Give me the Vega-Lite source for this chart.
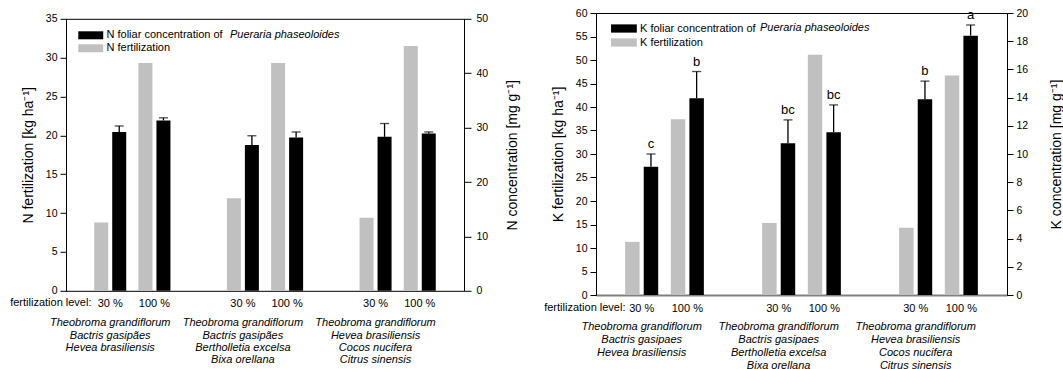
{
 "$schema": "https://vega.github.io/schema/vega-lite/v6.json",
 "padding": {"left": 9, "top": 7, "right": 0, "bottom": 0},
 "spacing": 22,
 "center": true,
 "config": {
  "font": "Liberation Sans",
  "view": {"stroke": "black", "strokeWidth": 1},
  "axis": {"labelFont": "Liberation Sans", "titleFont": "Liberation Sans", "labelColor": "black", "titleColor": "black", "tickColor": "black", "domainColor": "black", "titleFontWeight": "normal", "labelFontSize": 10.5, "titleFontSize": 14, "grid": false},
  "legend": {"labelFont": "Liberation Sans", "labelColor": "black", "labelFontSize": 11, "labelLimit": 500, "padding": 0},
  "text": {"font": "Liberation Sans"}
 },
 "datasets": {
  "N": [
   {"slot": "1|30 %", "s": "fert", "v": 8.8},
   {"slot": "1|30 %", "s": "conc", "v": 29.2, "hi": 30.3},
   {"slot": "1|100 %", "s": "fert", "v": 29.3},
   {"slot": "1|100 %", "s": "conc", "v": 31.3, "hi": 31.8},
   {"slot": "2|30 %", "s": "fert", "v": 11.9},
   {"slot": "2|30 %", "s": "conc", "v": 26.8, "hi": 28.5},
   {"slot": "2|100 %", "s": "fert", "v": 29.3},
   {"slot": "2|100 %", "s": "conc", "v": 28.2, "hi": 29.2},
   {"slot": "3|30 %", "s": "fert", "v": 9.4},
   {"slot": "3|30 %", "s": "conc", "v": 28.3, "hi": 30.75},
   {"slot": "3|100 %", "s": "fert", "v": 31.5},
   {"slot": "3|100 %", "s": "conc", "v": 28.9, "hi": 29.2}
  ],
  "K": [
   {"slot": "1|30 %", "s": "fert", "v": 11.3},
   {"slot": "1|30 %", "s": "conc", "v": 9.1, "hi": 10.0, "letter": "c"},
   {"slot": "1|100 %", "s": "fert", "v": 37.4},
   {"slot": "1|100 %", "s": "conc", "v": 13.96, "hi": 15.85, "letter": "b"},
   {"slot": "2|30 %", "s": "fert", "v": 15.3},
   {"slot": "2|30 %", "s": "conc", "v": 10.76, "hi": 12.42, "letter": "bc"},
   {"slot": "2|100 %", "s": "fert", "v": 51.1},
   {"slot": "2|100 %", "s": "conc", "v": 11.54, "hi": 13.48, "letter": "bc"},
   {"slot": "3|30 %", "s": "fert", "v": 14.3},
   {"slot": "3|30 %", "s": "conc", "v": 13.89, "hi": 15.17, "letter": "b"},
   {"slot": "3|100 %", "s": "fert", "v": 46.7},
   {"slot": "3|100 %", "s": "conc", "v": 18.39, "hi": 19.15, "letter": "a"}
  ]
 },
 "hconcat": [
  {
   "width": 398,
   "height": 272,
   "data": {"name": "N"},
   "resolve": {"scale": {"y": "independent"}, "axis": {"x": "independent"}},
   "layer": [
    {
     "transform": [{"filter": "datum.s == 'fert'"}],
     "mark": {"type": "bar"},
     "encoding": {
      "x": {"field": "slot", "type": "nominal", "sort": null,
       "scale": {"domain": ["1|30 %", "1|100 %", "gap1", "2|30 %", "2|100 %", "gap2", "3|30 %", "3|100 %"], "paddingInner": 0, "paddingOuter": 0.5},
       "axis": {"title": "fertilization level:", "titleX": 25, "titleY": 12, "titleAlign": "right", "titleBaseline": "middle", "titleFontSize": 11, "titleFontWeight": "normal", "labelExpr": "(datum.value == 'gap1' || datum.value == 'gap2') ? '' : split(datum.value, '|')[1]", "labelAngle": 0, "labelFontSize": 11, "labelPadding": 7, "ticks": false, "tickSize": 0, "domain": false, "labelOverlap": false}},
      "xOffset": {"field": "s", "type": "nominal", "scale": {"domain": ["fert", "conc"], "paddingInner": 0.222, "paddingOuter": 0.339}},
      "y": {"field": "v", "type": "quantitative", "scale": {"domain": [0, 35], "nice": false},
       "axis": {"title": "N fertilization [kg ha⁻¹]", "values": [0, 5, 10, 15, 20, 25, 30, 35], "tickSize": 6, "labelPadding": 3, "titlePadding": 10}},
      "color": {"field": "s", "type": "nominal", "scale": {"domain": ["conc", "fert"], "range": ["#000000", "#c0c0c0"]},
       "legend": {"orient": "none", "legendX": 12, "legendY": 10, "title": null, "direction": "vertical", "labelExpr": "datum.value == 'conc' ? 'N foliar concentration of' : 'N fertilization'", "symbolType": "M-1,-0.64H3V0.64H-1Z", "symbolSize": 156, "symbolStrokeWidth": 0, "labelOffset": 15.5, "rowPadding": 1}}
     }
    },
    {
     "transform": [{"filter": "datum.s == 'conc'"}],
     "mark": {"type": "bar"},
     "encoding": {
      "x": {"field": "slot", "type": "nominal", "sort": null,
       "scale": {"domain": ["1|30 %", "1|100 %", "gap1", "2|30 %", "2|100 %", "gap2", "3|30 %", "3|100 %"], "paddingInner": 0, "paddingOuter": 0.5},
       "axis": {"orient": "bottom", "values": ["1|30 %", "2|30 %", "3|30 %"], "bandPosition": 1, "title": null, "labelExpr": "datum.value == '1|30 %' ? ['Theobroma grandiflorum', 'Bactris gasipães', 'Hevea brasiliensis'] : datum.value == '2|30 %' ? ['Theobroma grandiflorum', 'Bactris gasipães', 'Bertholletia excelsa', 'Bixa orellana'] : ['Theobroma grandiflorum', 'Hevea brasiliensis', 'Cocos nucifera', 'Citrus sinensis']", "labelFontStyle": "italic", "labelFontSize": 11, "labelLineHeight": 12.3, "labelPadding": 26, "labelAngle": 0, "ticks": false, "tickSize": 0, "domain": false, "labelOverlap": false, "labelFlush": false}},
      "xOffset": {"field": "s", "type": "nominal", "scale": {"domain": ["fert", "conc"], "paddingInner": 0.222, "paddingOuter": 0.339}},
      "y": {"field": "v", "type": "quantitative", "scale": {"domain": [0, 50], "nice": false},
       "axis": {"orient": "right", "title": "N concentration [mg g⁻¹]", "titleAngle": 270, "titleBaseline": "top", "values": [0, 10, 20, 30, 40, 50], "tickSize": 7, "labelPadding": 5, "titlePadding": 18}},
      "color": {"field": "s", "type": "nominal", "scale": {"domain": ["conc", "fert"], "range": ["#000000", "#c0c0c0"]}},
      "opacity": {"datum": "Pueraria phaseoloides", "type": "nominal", "scale": {"range": [1]},
       "legend": {"orient": "none", "legendX": 149, "legendY": 10.5, "title": null, "symbolOpacity": 0, "symbolSize": 0, "labelOffset": 4, "labelFontStyle": "italic"}}
     }
    },
    {
     "transform": [{"filter": "datum.s == 'conc'"}],
     "mark": {"type": "rule", "color": "black", "strokeWidth": 1.3},
     "encoding": {
      "x": {"field": "slot", "type": "nominal", "sort": null, "axis": null,
       "scale": {"domain": ["1|30 %", "1|100 %", "gap1", "2|30 %", "2|100 %", "gap2", "3|30 %", "3|100 %"], "paddingInner": 0, "paddingOuter": 0.5}},
      "xOffset": {"field": "s", "type": "nominal", "scale": {"domain": ["fert", "conc"], "paddingInner": 0.222, "paddingOuter": 0.339}},
      "y": {"field": "v", "type": "quantitative", "scale": {"domain": [0, 50], "nice": false}, "axis": null},
      "y2": {"field": "hi"}
     }
    },
    {
     "transform": [{"filter": "datum.s == 'conc'"}],
     "mark": {"type": "tick", "color": "black", "size": 9, "thickness": 1.3},
     "encoding": {
      "x": {"field": "slot", "type": "nominal", "sort": null, "axis": null,
       "scale": {"domain": ["1|30 %", "1|100 %", "gap1", "2|30 %", "2|100 %", "gap2", "3|30 %", "3|100 %"], "paddingInner": 0, "paddingOuter": 0.5}},
      "xOffset": {"field": "s", "type": "nominal", "scale": {"domain": ["fert", "conc"], "paddingInner": 0.222, "paddingOuter": 0.339}},
      "y": {"field": "hi", "type": "quantitative", "scale": {"domain": [0, 50], "nice": false}, "axis": null}
     }
    }
   ]
  },
  {
   "width": 411,
   "height": 282,
   "data": {"name": "K"},
   "resolve": {"scale": {"y": "independent"}, "axis": {"x": "independent"}},
   "layer": [
    {
     "transform": [{"filter": "datum.s == 'fert'"}],
     "mark": {"type": "bar"},
     "encoding": {
      "x": {"field": "slot", "type": "nominal", "sort": null,
       "scale": {"domain": ["1|30 %", "1|100 %", "gap1", "2|30 %", "2|100 %", "gap2", "3|30 %", "3|100 %"], "paddingInner": 0, "paddingOuter": 0.5},
       "axis": {"title": "fertilization level:", "titleX": 29, "titleY": 12.7, "titleAlign": "right", "titleBaseline": "middle", "titleFontSize": 11, "titleFontWeight": "normal", "labelExpr": "(datum.value == 'gap1' || datum.value == 'gap2') ? '' : split(datum.value, '|')[1]", "labelAngle": 0, "labelFontSize": 11, "labelPadding": 7.5, "ticks": false, "tickSize": 0, "domain": true, "domainColor": "#808080", "domainWidth": 2, "labelOverlap": false}},
      "xOffset": {"field": "s", "type": "nominal", "scale": {"domain": ["fert", "conc"], "paddingInner": 0.222, "paddingOuter": 0.339}},
      "y": {"field": "v", "type": "quantitative", "scale": {"domain": [0, 60], "nice": false},
       "axis": {"title": "K fertilization [kg ha⁻¹]", "values": [0, 5, 10, 15, 20, 25, 30, 35, 40, 45, 50, 55, 60], "tickSize": 6, "labelPadding": 3, "titlePadding": 10}},
      "color": {"field": "s", "type": "nominal", "scale": {"domain": ["conc", "fert"], "range": ["#000000", "#c0c0c0"]},
       "legend": {"orient": "none", "legendX": 15, "legendY": 9, "title": null, "direction": "vertical", "labelExpr": "datum.value == 'conc' ? 'K foliar concentration of' : 'K fertilization'", "symbolType": "M-1,-0.64H3V0.64H-1Z", "symbolSize": 166, "symbolStrokeWidth": 0, "labelOffset": 16, "rowPadding": 2}}
     }
    },
    {
     "transform": [{"filter": "datum.s == 'conc'"}],
     "mark": {"type": "bar"},
     "encoding": {
      "x": {"field": "slot", "type": "nominal", "sort": null,
       "scale": {"domain": ["1|30 %", "1|100 %", "gap1", "2|30 %", "2|100 %", "gap2", "3|30 %", "3|100 %"], "paddingInner": 0, "paddingOuter": 0.5},
       "axis": {"orient": "bottom", "values": ["1|30 %", "2|30 %", "3|30 %"], "bandPosition": 1, "title": null, "labelExpr": "datum.value == '1|30 %' ? ['Theobroma grandiflorum', 'Bactris gasipaes', 'Hevea brasiliensis'] : datum.value == '2|30 %' ? ['Theobroma grandiflorum', 'Bactris gasipaes', 'Bertholletia excelsa', 'Bixa orellana'] : ['Theobroma grandiflorum', 'Hevea brasiliensis', 'Cocos nucifera', 'Citrus sinensis']", "labelFontStyle": "italic", "labelFontSize": 11, "labelLineHeight": 13, "labelPadding": 25.5, "labelAngle": 0, "ticks": false, "tickSize": 0, "domain": false, "labelOverlap": false, "labelFlush": false}},
      "xOffset": {"field": "s", "type": "nominal", "scale": {"domain": ["fert", "conc"], "paddingInner": 0.222, "paddingOuter": 0.339}},
      "y": {"field": "v", "type": "quantitative", "scale": {"domain": [0, 20], "nice": false},
       "axis": {"orient": "right", "title": "K concentration [mg g⁻¹]", "titleAngle": 270, "titleBaseline": "top", "values": [0, 2, 4, 6, 8, 10, 12, 14, 16, 18, 20], "tickSize": 6, "labelPadding": 3, "titlePadding": 22}},
      "color": {"field": "s", "type": "nominal", "scale": {"domain": ["conc", "fert"], "range": ["#000000", "#c0c0c0"]}},
      "opacity": {"datum": "Pueraria phaseoloides", "type": "nominal", "scale": {"range": [1]},
       "legend": {"orient": "none", "legendX": 149, "legendY": 9.5, "title": null, "symbolOpacity": 0, "symbolSize": 0, "labelOffset": 4, "labelFontStyle": "italic"}}
     }
    },
    {
     "transform": [{"filter": "datum.s == 'conc'"}],
     "mark": {"type": "rule", "color": "black", "strokeWidth": 1.3},
     "encoding": {
      "x": {"field": "slot", "type": "nominal", "sort": null, "axis": null,
       "scale": {"domain": ["1|30 %", "1|100 %", "gap1", "2|30 %", "2|100 %", "gap2", "3|30 %", "3|100 %"], "paddingInner": 0, "paddingOuter": 0.5}},
      "xOffset": {"field": "s", "type": "nominal", "scale": {"domain": ["fert", "conc"], "paddingInner": 0.222, "paddingOuter": 0.339}},
      "y": {"field": "v", "type": "quantitative", "scale": {"domain": [0, 20], "nice": false}, "axis": null},
      "y2": {"field": "hi"}
     }
    },
    {
     "transform": [{"filter": "datum.s == 'conc'"}],
     "mark": {"type": "tick", "color": "black", "size": 9, "thickness": 1.3},
     "encoding": {
      "x": {"field": "slot", "type": "nominal", "sort": null, "axis": null,
       "scale": {"domain": ["1|30 %", "1|100 %", "gap1", "2|30 %", "2|100 %", "gap2", "3|30 %", "3|100 %"], "paddingInner": 0, "paddingOuter": 0.5}},
      "xOffset": {"field": "s", "type": "nominal", "scale": {"domain": ["fert", "conc"], "paddingInner": 0.222, "paddingOuter": 0.339}},
      "y": {"field": "hi", "type": "quantitative", "scale": {"domain": [0, 20], "nice": false}, "axis": null}
     }
    },
    {
     "transform": [{"filter": "datum.s == 'conc'"}],
     "mark": {"type": "text", "color": "black", "fontSize": 13, "baseline": "bottom", "dy": -3},
     "encoding": {
      "x": {"field": "slot", "type": "nominal", "sort": null, "axis": null,
       "scale": {"domain": ["1|30 %", "1|100 %", "gap1", "2|30 %", "2|100 %", "gap2", "3|30 %", "3|100 %"], "paddingInner": 0, "paddingOuter": 0.5}},
      "xOffset": {"field": "s", "type": "nominal", "scale": {"domain": ["fert", "conc"], "paddingInner": 0.222, "paddingOuter": 0.339}},
      "y": {"field": "hi", "type": "quantitative", "scale": {"domain": [0, 20], "nice": false}, "axis": null},
      "text": {"field": "letter"}
     }
    }
   ]
  }
 ],
 "resolve": {"scale": {"color": "independent", "opacity": "independent", "x": "independent", "xOffset": "independent", "y": "independent"}, "legend": {"color": "independent", "opacity": "independent"}}
}
